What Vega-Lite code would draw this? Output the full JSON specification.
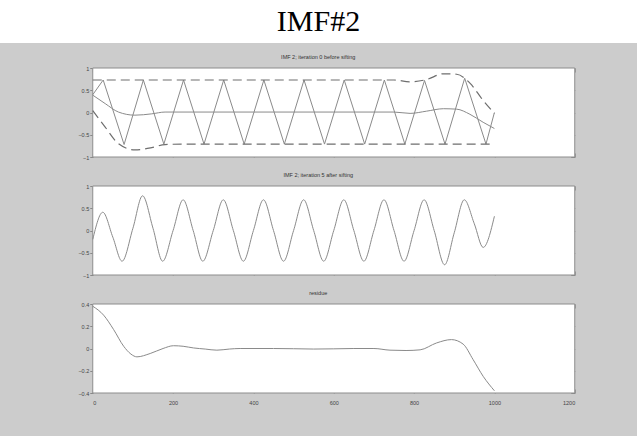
{
  "$schema": "https://vega.github.io/schema/vega-lite/v6.json",
  "background": "#cccccc",
  "padding": {"left": 0, "top": 0, "right": 0, "bottom": 31},
  "autosize": {"type": "pad"},
  "spacing": 11,
  "center": true,
  "config": {
    "axis": {"domain": false, "grid": false, "labelFont": "Liberation Sans", "labelFontSize": 5.5, "labelColor": "#444444", "tickColor": "#888888", "tickWidth": 1, "title": null},
    "title": {"font": "Liberation Sans", "fontSize": 5.5, "fontWeight": "normal", "color": "#333333", "offset": 6, "anchor": "middle"}
  },
  "datasets": {
    "frame": [{}],
    "p1signal": [
      {"x": 0, "y": 0.40}, {"x": 26, "y": 0.73}, {"x": 78, "y": -0.72}, {"x": 126, "y": 0.73}, {"x": 177, "y": -0.71},
      {"x": 226, "y": 0.73}, {"x": 277, "y": -0.71}, {"x": 326, "y": 0.73}, {"x": 377, "y": -0.71}, {"x": 426, "y": 0.73},
      {"x": 477, "y": -0.71}, {"x": 526, "y": 0.73}, {"x": 577, "y": -0.71}, {"x": 626, "y": 0.73}, {"x": 677, "y": -0.71},
      {"x": 726, "y": 0.73}, {"x": 777, "y": -0.71}, {"x": 826, "y": 0.72}, {"x": 877, "y": -0.71}, {"x": 926, "y": 0.77},
      {"x": 979, "y": -0.71}, {"x": 1000, "y": 0.0}
    ],
    "p1mean": [
      {"x": 0, "y": 0.39}, {"x": 31, "y": 0.2}, {"x": 64, "y": 0.01}, {"x": 105, "y": -0.06}, {"x": 147, "y": -0.03},
      {"x": 180, "y": 0.01}, {"x": 250, "y": 0.01}, {"x": 400, "y": 0.01}, {"x": 600, "y": 0.01}, {"x": 750, "y": 0.01},
      {"x": 790, "y": -0.02}, {"x": 831, "y": 0.03}, {"x": 873, "y": 0.085}, {"x": 906, "y": 0.075}, {"x": 939, "y": -0.04},
      {"x": 972, "y": -0.22}, {"x": 1000, "y": -0.36}
    ],
    "p1env": [
      {"series": "upper", "x": 0, "y": 0.73}, {"series": "upper", "x": 200, "y": 0.73}, {"series": "upper", "x": 400, "y": 0.73},
      {"series": "upper", "x": 600, "y": 0.73}, {"series": "upper", "x": 750, "y": 0.73}, {"series": "upper", "x": 789, "y": 0.69},
      {"series": "upper", "x": 831, "y": 0.74}, {"series": "upper", "x": 873, "y": 0.87}, {"series": "upper", "x": 906, "y": 0.86},
      {"series": "upper", "x": 939, "y": 0.66}, {"series": "upper", "x": 972, "y": 0.27}, {"series": "upper", "x": 1000, "y": -0.02},
      {"series": "lower", "x": 0, "y": 0.04}, {"series": "lower", "x": 31, "y": -0.33}, {"series": "lower", "x": 64, "y": -0.70},
      {"series": "lower", "x": 105, "y": -0.84}, {"series": "lower", "x": 147, "y": -0.79}, {"series": "lower", "x": 180, "y": -0.72},
      {"series": "lower", "x": 230, "y": -0.71}, {"series": "lower", "x": 400, "y": -0.71}, {"series": "lower", "x": 600, "y": -0.71},
      {"series": "lower", "x": 800, "y": -0.71}, {"series": "lower", "x": 1000, "y": -0.71}
    ],
    "p2": [
      {"x": 0, "y": -0.2}, {"x": 25, "y": 0.41}, {"x": 50, "y": -0.15}, {"x": 73, "y": -0.69}, {"x": 100, "y": 0.05},
      {"x": 124, "y": 0.78}, {"x": 150, "y": 0.05}, {"x": 174, "y": -0.69}, {"x": 200, "y": 0.0}, {"x": 225, "y": 0.69},
      {"x": 250, "y": 0.0}, {"x": 274, "y": -0.69}, {"x": 300, "y": 0.0}, {"x": 325, "y": 0.69}, {"x": 350, "y": 0.0},
      {"x": 375, "y": -0.69}, {"x": 400, "y": 0.0}, {"x": 425, "y": 0.69}, {"x": 450, "y": 0.0}, {"x": 475, "y": -0.69},
      {"x": 500, "y": 0.0}, {"x": 525, "y": 0.69}, {"x": 550, "y": 0.0}, {"x": 575, "y": -0.69}, {"x": 600, "y": 0.0},
      {"x": 625, "y": 0.69}, {"x": 650, "y": 0.0}, {"x": 675, "y": -0.69}, {"x": 700, "y": 0.0}, {"x": 725, "y": 0.69},
      {"x": 750, "y": 0.0}, {"x": 775, "y": -0.69}, {"x": 800, "y": 0.0}, {"x": 825, "y": 0.69}, {"x": 850, "y": 0.0},
      {"x": 876, "y": -0.77}, {"x": 900, "y": -0.05}, {"x": 925, "y": 0.69}, {"x": 950, "y": 0.15}, {"x": 972, "y": -0.38},
      {"x": 1000, "y": 0.32}
    ],
    "p3": [
      {"x": 0, "y": 0.38}, {"x": 27, "y": 0.30}, {"x": 52, "y": 0.17}, {"x": 77, "y": 0.02}, {"x": 95, "y": -0.05},
      {"x": 110, "y": -0.075}, {"x": 143, "y": -0.045}, {"x": 175, "y": 0.0}, {"x": 201, "y": 0.025}, {"x": 225, "y": 0.02},
      {"x": 251, "y": 0.005}, {"x": 280, "y": -0.005}, {"x": 309, "y": -0.015}, {"x": 340, "y": -0.005}, {"x": 367, "y": 0.0},
      {"x": 450, "y": 0.0}, {"x": 500, "y": -0.002}, {"x": 550, "y": -0.005}, {"x": 600, "y": -0.003}, {"x": 650, "y": 0.0},
      {"x": 700, "y": 0.0}, {"x": 740, "y": -0.015}, {"x": 780, "y": -0.018}, {"x": 815, "y": -0.012}, {"x": 856, "y": 0.05},
      {"x": 893, "y": 0.08}, {"x": 922, "y": 0.04}, {"x": 947, "y": -0.1}, {"x": 972, "y": -0.25}, {"x": 1000, "y": -0.38}
    ],
    "heading": [{"label": "IMF#2"}]
  },
  "vconcat": [
    {
      "width": 637,
      "height": 43,
      "view": {"fill": "white", "stroke": null},
      "data": {"name": "heading"},
      "mark": {"type": "text", "font": "Liberation Serif", "fontSize": 30, "color": "#000000", "baseline": "middle", "align": "center"},
      "encoding": {
        "x": {"field": "label", "type": "nominal", "axis": null},
        "y": {"field": "label", "type": "nominal", "axis": null},
        "text": {"field": "label"}
      }
    },
    {
      "width": 513,
      "height": 89,
      "view": {"fill": null, "stroke": null},
      "title": "IMF 2;  iteration 0 before sifting",
      "layer": [
        {
          "data": {"name": "frame"},
          "mark": {"type": "rect", "fill": "white", "stroke": "#8c8c8c", "strokeWidth": 1},
          "encoding": {
            "x": {"datum": 0, "type": "quantitative", "scale": {"domain": [0, 1200], "nice": false, "range": [31, 513]}, "axis": {"orient": "bottom", "values": [0, 200, 400, 600, 800, 1000, 1200], "labels": false, "tickSize": -4}},
            "x2": {"datum": 1200},
            "y": {"datum": -1, "type": "quantitative", "scale": {"domain": [-1, 1], "nice": false}, "axis": {"orient": "left", "offset": -31, "values": [-1, -0.5, 0, 0.5, 1], "format": "~g", "tickSize": 3, "labelPadding": 1}},
            "y2": {"datum": 1}
          }
        },
        {
          "data": {"name": "p1signal"},
          "mark": {"type": "line", "stroke": "#8a8a8a", "strokeWidth": 1, "clip": true},
          "encoding": {
            "x": {"field": "x", "type": "quantitative", "axis": {"orient": "top", "values": [0, 200, 400, 600, 800, 1000, 1200], "labels": false, "tickSize": -4}},
            "y": {"field": "y", "type": "quantitative", "axis": {"orient": "right", "values": [-1, -0.5, 0, 0.5, 1], "labels": false, "tickSize": -4}}
          }
        },
        {
          "data": {"name": "p1mean"},
          "mark": {"type": "line", "interpolate": "monotone", "stroke": "#8a8a8a", "strokeWidth": 1, "clip": true},
          "encoding": {
            "x": {"field": "x", "type": "quantitative", "axis": null},
            "y": {"field": "y", "type": "quantitative", "axis": null}
          }
        },
        {
          "data": {"name": "p1env"},
          "mark": {"type": "line", "interpolate": "monotone", "stroke": "#6e6e6e", "strokeWidth": 1.2, "strokeDash": [9, 5], "clip": true},
          "encoding": {
            "detail": {"field": "series", "type": "nominal"},
            "x": {"field": "x", "type": "quantitative", "axis": null},
            "y": {"field": "y", "type": "quantitative", "axis": null}
          }
        }
      ],
      "resolve": {"axis": {"x": "independent", "y": "independent"}}
    },
    {
      "width": 513,
      "height": 89,
      "view": {"fill": null, "stroke": null},
      "title": "IMF 2;  iteration 5 after sifting",
      "layer": [
        {
          "data": {"name": "frame"},
          "mark": {"type": "rect", "fill": "white", "stroke": "#8c8c8c", "strokeWidth": 1},
          "encoding": {
            "x": {"datum": 0, "type": "quantitative", "scale": {"domain": [0, 1200], "nice": false, "range": [31, 513]}, "axis": {"orient": "bottom", "values": [0, 200, 400, 600, 800, 1000, 1200], "labels": false, "tickSize": -4}},
            "x2": {"datum": 1200},
            "y": {"datum": -1, "type": "quantitative", "scale": {"domain": [-1, 1], "nice": false}, "axis": {"orient": "left", "offset": -31, "values": [-1, -0.5, 0, 0.5, 1], "format": "~g", "tickSize": 3, "labelPadding": 1}},
            "y2": {"datum": 1}
          }
        },
        {
          "data": {"name": "p2"},
          "mark": {"type": "line", "interpolate": "monotone", "stroke": "#8a8a8a", "strokeWidth": 1, "clip": true},
          "encoding": {
            "x": {"field": "x", "type": "quantitative", "axis": {"orient": "top", "values": [0, 200, 400, 600, 800, 1000, 1200], "labels": false, "tickSize": -4}},
            "y": {"field": "y", "type": "quantitative", "axis": {"orient": "right", "values": [-1, -0.5, 0, 0.5, 1], "labels": false, "tickSize": -4}}
          }
        }
      ],
      "resolve": {"axis": {"x": "independent", "y": "independent"}}
    },
    {
      "width": 513,
      "height": 89,
      "view": {"fill": null, "stroke": null},
      "title": "residue",
      "layer": [
        {
          "data": {"name": "frame"},
          "mark": {"type": "rect", "fill": "white", "stroke": "#8c8c8c", "strokeWidth": 1},
          "encoding": {
            "x": {"datum": 0, "type": "quantitative", "scale": {"domain": [0, 1200], "nice": false, "range": [31, 513]}, "axis": {"orient": "bottom", "values": [0, 200, 400, 600, 800, 1000, 1200], "format": "d", "tickSize": -4, "labelPadding": 11}},
            "x2": {"datum": 1200},
            "y": {"datum": -0.4, "type": "quantitative", "scale": {"domain": [-0.4, 0.4], "nice": false}, "axis": {"orient": "left", "offset": -31, "values": [-0.4, -0.2, 0, 0.2, 0.4], "format": "~g", "tickSize": 3, "labelPadding": 1}},
            "y2": {"datum": 0.4}
          }
        },
        {
          "data": {"name": "p3"},
          "mark": {"type": "line", "interpolate": "monotone", "stroke": "#8a8a8a", "strokeWidth": 1, "clip": true},
          "encoding": {
            "x": {"field": "x", "type": "quantitative", "axis": {"orient": "top", "values": [0, 200, 400, 600, 800, 1000, 1200], "labels": false, "tickSize": -4}},
            "y": {"field": "y", "type": "quantitative", "axis": {"orient": "right", "values": [-0.4, -0.2, 0, 0.2, 0.4], "labels": false, "tickSize": -4}}
          }
        }
      ],
      "resolve": {"axis": {"x": "independent", "y": "independent"}}
    }
  ]
}
